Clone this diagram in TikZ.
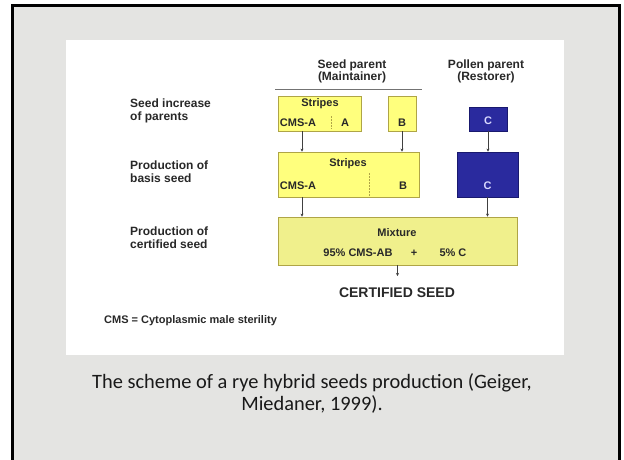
\documentclass[tikz,border=0pt]{standalone}
\usepackage{fontspec}
\setmainfont{Liberation Sans}
\newfontfamily\capfont{Carlito}
\usetikzlibrary{arrows.meta}
\definecolor{granite}{RGB}{228,228,226}
\definecolor{yfill}{RGB}{255,255,125}
\definecolor{ydraw}{RGB}{175,165,70}
\definecolor{mfill}{RGB}{240,240,140}
\definecolor{bfill}{RGB}{42,42,158}
\definecolor{bdraw}{RGB}{25,25,110}
\definecolor{txt}{RGB}{40,40,40}
\begin{document}
\begin{tikzpicture}[x=1pt,y=-1pt,
  ybox/.style={draw=ydraw,fill=yfill,line width=0.8pt,inner sep=0pt},
  mbox/.style={draw=ydraw,fill=mfill,line width=0.8pt,inner sep=0pt},
  bbox/.style={draw=bdraw,fill=bfill,line width=0.8pt,inner sep=0pt},
  lbl/.style={font=\bfseries\fontsize{12}{12.5}\selectfont,text=txt,align=left,anchor=west,inner sep=0pt},
  hdr/.style={font=\bfseries\fontsize{12}{12.5}\selectfont,text=txt,align=center,inner sep=0pt},
  btxt/.style={font=\bfseries\fontsize{11}{12}\selectfont,text=txt,inner sep=0pt},
  wtxt/.style={font=\bfseries\fontsize{11}{12}\selectfont,text=white!85!blue,inner sep=0pt},
  arr/.style={draw=black!75,line width=0.6pt,-{Stealth[length=3pt,width=3pt]}},
  divl/.style={draw=ydraw,line width=0.7pt,dash pattern=on 1.5pt off 1.5pt}]
\useasboundingbox (0,0) rectangle (624,459);
% background and frame
\fill[white] (0,0) rectangle (624,459);
\fill[granite] (12,5) rectangle (619,470);
\draw[black,line width=3pt] (12,470) -- (12,5) -- (619,5) -- (619,470);
% white panel
\fill[white] (66,40) rectangle (564,355);
% headers
\node[hdr] (hseed) at (352,71.5) {Seed parent\\(Maintainer)};
\node[hdr] (hpollen) at (486,71.5) {Pollen parent\\(Restorer)};
\coordinate (lineL) at (275,89);
\coordinate (lineR) at (422,89);
\draw[black!55,line width=0.8pt] (lineL) -- (lineR);
% row labels
\node[lbl] (l1) at (130,111) {Seed increase\\of parents};
\node[lbl] (l2) at (130,171.5) {Production of\\basis seed};
\node[lbl] (l3) at (130,237.5) {Production of\\certified seed};
% boxes
\node[ybox,minimum width=83pt,minimum height=35pt] (s1) at (319.5,113.5) {};
\node[ybox,minimum width=28pt,minimum height=35pt] (b1) at (402,113.5) {};
\node[bbox,minimum width=38pt,minimum height=24pt] (c1) at (488,119) {};
\node[ybox,minimum width=141pt,minimum height=45pt] (s2) at (348.5,174.5) {};
\node[bbox,minimum width=61pt,minimum height=45pt] (c2) at (487.5,174.5) {};
\node[mbox,minimum width=239pt,minimum height=48pt] (mix) at (397.5,241) {};
% box texts
\node[btxt] (t1) at (320,104) {Stripes};
\node[btxt] (t2) at (298,123) {CMS-A};
\node[btxt] (t3) at (345,123) {A};
\coordinate (d1a) at (331,116);
\coordinate (d1b) at (331,129);
\draw[divl] (d1a) -- (d1b);
\node[btxt] (t4) at (402,123) {B};
\node[wtxt] (t5) at (488,121) {C};
\node[btxt] (t6) at (348,164) {Stripes};
\node[btxt] (t7) at (298,186) {CMS-A};
\coordinate (d2a) at (369,173);
\coordinate (d2b) at (369,197);
\draw[divl] (d2a) -- (d2b);
\node[btxt] (t8) at (403,186) {B};
\node[wtxt] (t9) at (487.5,186) {C};
\node[btxt] (t10) at (397,233) {Mixture};
\node[btxt] (t11) at (358,253) {95\% CMS-AB};
\node[btxt] (t12) at (414,253) {+};
\node[btxt] (t13) at (453,253) {5\% C};
\node[font=\bfseries\fontsize{14}{16}\selectfont,text=txt,inner sep=0pt] (cert) at (397,293) {CERTIFIED SEED};
% arrows
\coordinate (colA) at (302,0);
\coordinate (certtop) at (397.5,276);
\draw[arr] (s1.south -| colA) -- (s2.north -| colA);
\draw[arr] (b1.south) -- (b1.south |- s2.north);
\draw[arr] (c1.south) -- (c1.south |- c2.north);
\draw[arr] (s2.south -| colA) -- (mix.north -| colA);
\draw[arr] (c2.south) -- (c2.south |- mix.north);
\draw[arr] (mix.south) -- (certtop);
% note
\node[font=\bfseries\fontsize{11}{12}\selectfont,text=txt,anchor=west,inner sep=0pt] (note) at (104,321) {CMS = Cytoplasmic male sterility};
% caption
\node[font=\capfont\fontsize{20.4}{22}\selectfont,align=center,text=black!90] (cap) at (312,393) {The scheme of a rye hybrid seeds production (Geiger,\\Miedaner, 1999).};
\end{tikzpicture}
\end{document}
